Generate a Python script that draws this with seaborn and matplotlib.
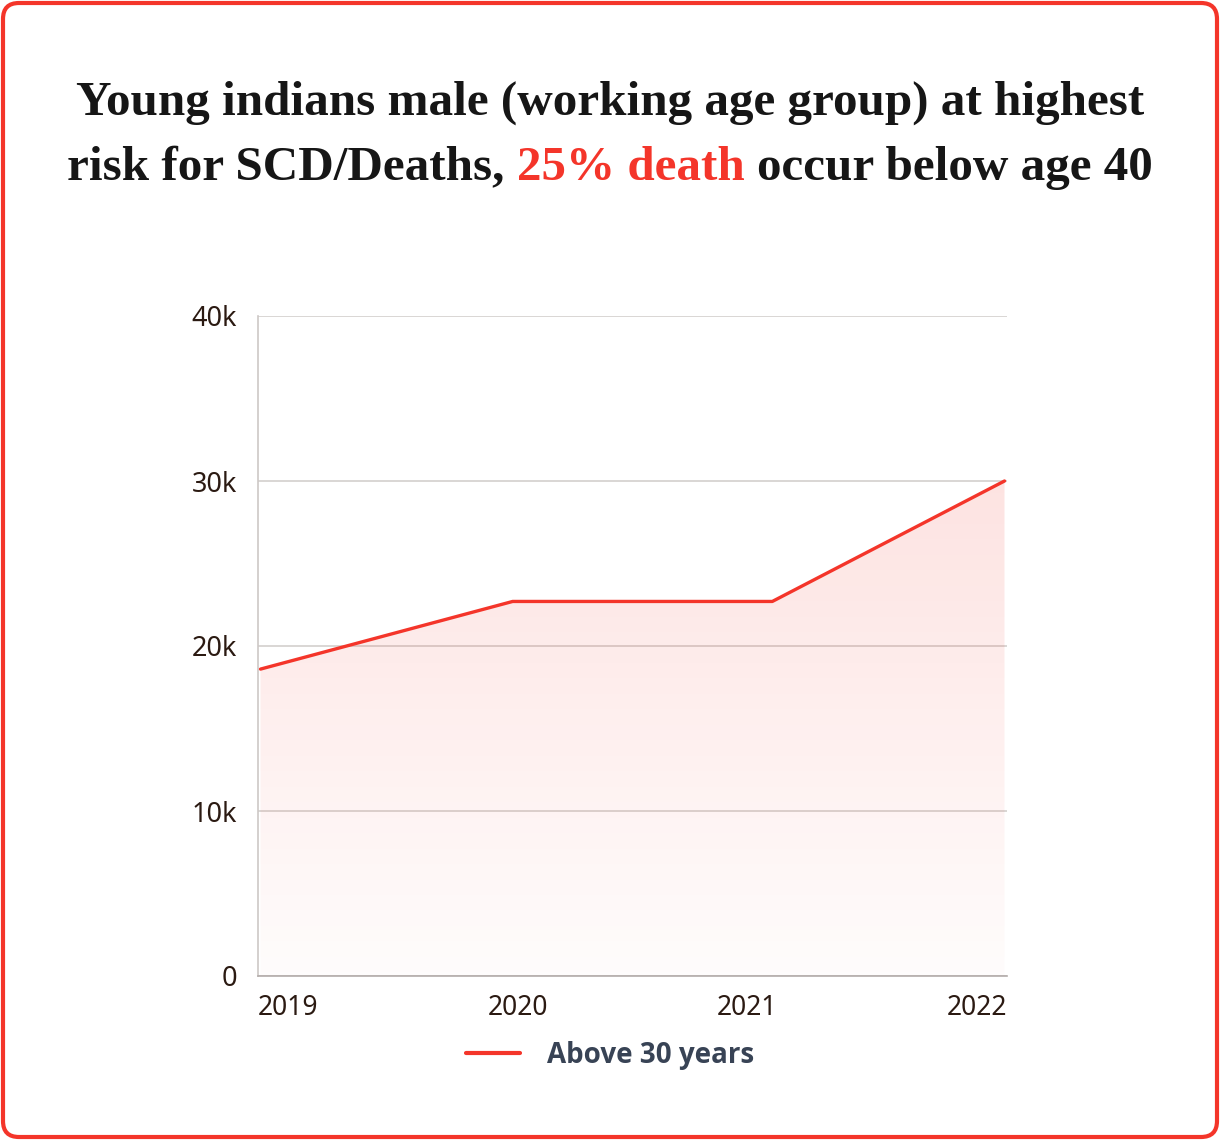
import numpy as np
import pandas as pd
import matplotlib
matplotlib.use("Agg")
import matplotlib.pyplot as plt
import seaborn as sns
from matplotlib.patches import FancyBboxPatch, Polygon
from matplotlib.colors import LinearSegmentedColormap
from matplotlib.lines import Line2D

# ---------------- data ----------------
x_years = [2019.01, 2020.02, 2021.06, 2021.99]   # point positions
deaths = [18600, 22700, 22700, 30000]
tick_labels = ["2019", "2020", "2021", "2022"]
y_ticks = [0, 10000, 20000, 30000, 40000]
y_tick_labels = ["0", "10k", "20k", "30k", "40k"]
series_name = "Above 30 years"
title_line1 = "Young indians male (working age group) at highest"
title_line2 = ["risk for SCD/Deaths,", "25% death", "occur below age 40"]

RED = "#f4352a"
TXT = "#2b1a12"

sns.set_theme(style="white")
plt.rcParams['font.family'] = ['Noto Sans', 'DejaVu Sans']

W, H = 1220, 1140
fig = plt.figure(figsize=(W / 100, H / 100), dpi=100)
fig.patch.set_facecolor("white")

# rounded red border
border = FancyBboxPatch((3, 3), W - 6, H - 6, boxstyle="round,pad=0,rounding_size=16",
                        transform=None, facecolor="none", edgecolor=RED, linewidth=3.0)
fig.patches.append(border)

ax = fig.add_axes([258 / W, 164 / H, 749 / W, 660 / H])
df = pd.DataFrame({"year": x_years, "deaths": deaths})
sns.lineplot(data=df, x="year", y="deaths", ax=ax, color=RED, linewidth=2.4,
             legend=False, zorder=3)

# gradient area fill
verts = [(x_years[0], 0)] + list(zip(x_years, deaths)) + [(x_years[-1], 0)]
poly = Polygon(verts, closed=True, facecolor="none", edgecolor="none", transform=ax.transData)
ax.add_patch(poly)
cmap = LinearSegmentedColormap.from_list("g", [(0.957, 0.208, 0.165, 0.015),
                                               (0.957, 0.208, 0.165, 0.14)])
grad = np.linspace(0, 1, 256).reshape(-1, 1)
im = ax.imshow(grad, extent=[2019, 2022, 0, max(deaths)], origin="lower", cmap=cmap,
               aspect="auto", zorder=1, interpolation="bicubic")
im.set_clip_path(poly)

ax.set_xlim(2019, 2022)
ax.set_ylim(0, 40000)
ax.set_xlabel("")
ax.set_ylabel("")

ax.set_yticks(y_ticks)
ax.set_yticklabels(y_tick_labels)
ax.yaxis.grid(True, color="#d3cfcd", linewidth=1.2, zorder=0)
ax.xaxis.grid(False)
ax.set_axisbelow(True)

label_pos = [2019, 2020.04, 2020.96, 2022]
ax.set_xticks(label_pos)
ax.set_xticklabels(tick_labels)
xt = ax.get_xticklabels()
xt[0].set_ha("left")
xt[-1].set_ha("right")

ax.tick_params(axis="y", labelsize=19.5, labelcolor=TXT, length=0, pad=15)
ax.tick_params(axis="x", labelsize=19, labelcolor=TXT, length=0, pad=13)

for s in ["top", "right"]:
    ax.spines[s].set_visible(False)
ax.spines["left"].set_color("#cdc8c6")
ax.spines["left"].set_linewidth(1.2)
ax.spines["bottom"].set_color("#b3acaa")
ax.spines["bottom"].set_linewidth(1.2)

# legend
handle = Line2D([0], [0], color=RED, linewidth=3)
leg = fig.legend([handle], [series_name], loc="center", bbox_to_anchor=(0.5, 1 - 1055 / H),
                 frameon=False, handlelength=1.95, handletextpad=0.95,
                 prop={"family": ["Open Sans", "DejaVu Sans"], "weight": "bold", "size": 20})
for t in leg.get_texts():
    t.set_color("#384355")

# title
renderer = fig.canvas.get_renderer()
tfam = ["Liberation Serif", "DejaVu Serif"]
size = 40
probe = fig.text(0, 0, title_line1, fontsize=size, family=tfam, weight="bold")
w = probe.get_window_extent(renderer).width
probe.remove()
size = size * 1068 / w

fig.text(0.5, 1 - 115 / H, title_line1, ha="center", va="baseline", fontsize=size,
         family=tfam, weight="bold", color="#161616")

colors = ["#161616", RED, "#161616"]
pieces = []
for txt, c in zip(title_line2, colors):
    pieces.append(fig.text(0, 1 - 180 / H, txt, ha="left", va="baseline", fontsize=size,
                           family=tfam, weight="bold", color=c))
sp = fig.text(0, 0, "a a", fontsize=size, family=tfam, weight="bold")
sa = fig.text(0, 0, "aa", fontsize=size, family=tfam, weight="bold")
space = sp.get_window_extent(renderer).width - sa.get_window_extent(renderer).width
sp.remove(); sa.remove()
widths = [p.get_window_extent(renderer).width for p in pieces]
total = sum(widths) + space * (len(pieces) - 1)
x0 = W / 2 - total / 2
for p, wd in zip(pieces, widths):
    p.set_x(x0 / W)
    x0 += wd + space

fig.savefig("out.png", dpi=100, facecolor="white")
